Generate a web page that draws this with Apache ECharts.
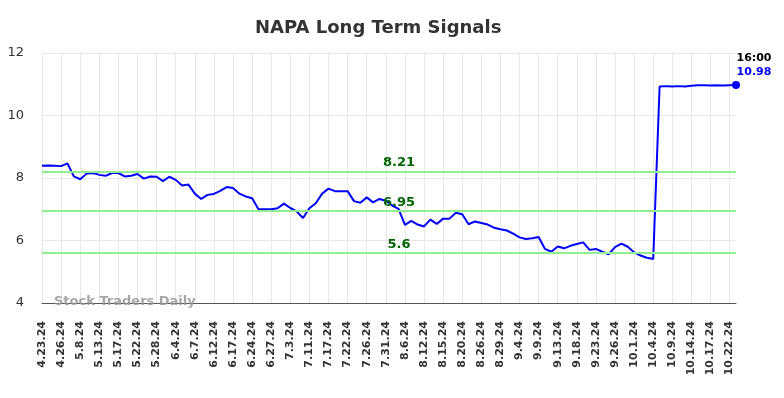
<!DOCTYPE html>
<html>
<head>
<meta charset="utf-8">
<script src="https://cdn.jsdelivr.net/npm/echarts@6/dist/echarts.min.js"></script>
<style>
	html, body { margin: 0; padding: 0; background: #fff; }
	#chart { width: 784px; height: 398px; }
</style>
</head>
<body>
<div id="chart"></div>
<script>
'use strict';

// tick labels, one for every third point
var tickLabels = [
	'4.23.24', '4.26.24', '5.8.24', '5.13.24', '5.17.24', '5.22.24', '5.28.24',
	'6.4.24', '6.7.24', '6.12.24', '6.17.24', '6.24.24', '6.27.24', '7.3.24',
	'7.11.24', '7.17.24', '7.22.24', '7.26.24', '7.31.24', '8.6.24', '8.12.24',
	'8.15.24', '8.20.24', '8.26.24', '8.29.24', '9.4.24', '9.9.24', '9.13.24',
	'9.18.24', '9.23.24', '9.26.24', '10.1.24', '10.4.24', '10.9.24', '10.14.24',
	'10.17.24', '10.22.24'
];

var prices = [
	8.39, 8.40, 8.39, 8.38, 8.47, 8.05, 7.96, 8.14, 8.16, 8.10,
	8.07, 8.16, 8.16, 8.05, 8.07, 8.13, 7.98, 8.05, 8.04, 7.90,
	8.04, 7.94, 7.76, 7.79, 7.50, 7.33, 7.46, 7.49, 7.59, 7.71,
	7.68, 7.50, 7.41, 7.35, 7.00, 7.00, 7.00, 7.03, 7.18, 7.04,
	6.93, 6.72, 7.03, 7.19, 7.50, 7.66, 7.58, 7.58, 7.58, 7.26,
	7.21, 7.38, 7.22, 7.33, 7.27, 7.12, 7.01, 6.50, 6.63, 6.51,
	6.45, 6.67, 6.53, 6.70, 6.70, 6.89, 6.84, 6.52, 6.61, 6.56,
	6.51, 6.41, 6.36, 6.32, 6.22, 6.10, 6.05, 6.07, 6.11, 5.73,
	5.64, 5.81, 5.75, 5.83, 5.89, 5.94, 5.70, 5.73, 5.64, 5.56,
	5.79, 5.90, 5.80, 5.62, 5.52, 5.45, 5.41, 10.93, 10.94, 10.93,
	10.94, 10.93, 10.95, 10.97, 10.97, 10.96, 10.97, 10.96, 10.97, 10.98
];

var signals = [8.21, 6.95, 5.6];
var lastTime = '16:00';

var categories = prices.map(function (v, i) { return String(i); });
var lastIdx = prices.length - 1;
var font = 'DejaVu Sans';

var chart = echarts.init(document.getElementById('chart'));

chart.setOption({
	animation: false,
	title: {
		text: 'NAPA Long Term Signals',
		left: 250,
		top: 14,
		textStyle: {
			fontFamily: font,
			fontSize: 18,
			fontWeight: 'bold',
			color: '#333'
		}
	},
	grid: {
		left: 42,
		right: 48,
		top: 53,
		bottom: 95
	},
	xAxis: {
		type: 'category',
		data: categories,
		boundaryGap: false,
		axisLine: { lineStyle: { color: '#555', width: 1 } },
		axisTick: { show: false },
		axisLabel: {
			interval: 2,
			rotate: 90,
			margin: 18,
			fontFamily: font,
			fontSize: 11,
			fontWeight: 'bold',
			color: '#333',
			formatter: function (v, i) {
				return i % 3 === 0 ? tickLabels[i / 3] : '';
			}
		},
		splitLine: {
			show: true,
			interval: 2,
			lineStyle: { color: '#e8e8e8', width: 1 }
		}
	},
	yAxis: {
		type: 'value',
		min: 4,
		max: 12,
		interval: 2,
		axisLine: { show: false },
		axisTick: { show: false },
		axisLabel: {
			margin: 18,
			fontFamily: font,
			fontSize: 13,
			color: '#333'
		},
		splitLine: { lineStyle: { color: '#e8e8e8', width: 1 } }
	},
	graphic: [
		{
			type: 'text',
			left: 54,
			top: 295,
			z: 100,
			style: {
				text: 'Stock Traders Daily',
				fontFamily: font,
				fontSize: 13,
				fontWeight: 'bold',
				fill: 'rgba(150,150,150,0.85)'
			}
		}
	],
	series: [
		{
			type: 'line',
			data: prices,
			showSymbol: false,
			lineStyle: { color: '#0000ff', width: 2 },
			itemStyle: { color: '#0000ff' },
			markLine: {
				silent: true,
				symbol: 'none',
				lineStyle: { color: '#90ee90', width: 2, type: 'solid' },
				label: {
					position: 'insideMiddleTop',
					distance: 2,
					offset: [10, 0],
					fontFamily: font,
					fontSize: 13,
					fontWeight: 'bold',
					color: '#006400',
					formatter: function (p) { return String(p.value); }
				},
				data: signals.map(function (s) { return { yAxis: s }; })
			},
			markPoint: {
				silent: true,
				symbol: 'circle',
				symbolSize: 8,
				itemStyle: { color: '#0000ff' },
				label: {
					show: true,
					position: 'top',
					distance: 2,
					offset: [18, 0],
					align: 'center',
					lineHeight: 14,
					fontFamily: font,
					fontSize: 11,
					fontWeight: 'bold',
					formatter: '{t|' + lastTime + '}\n{v|' + prices[lastIdx] + '}',
					rich: {
						t: { color: '#000', fontFamily: font, fontSize: 11, fontWeight: 'bold', lineHeight: 14 },
						v: { color: '#0000ff', fontFamily: font, fontSize: 11, fontWeight: 'bold', lineHeight: 14 }
					}
				},
				data: [{ coord: [lastIdx, prices[lastIdx]] }]
			}
		}
	]
});
</script>
</body>
</html>
